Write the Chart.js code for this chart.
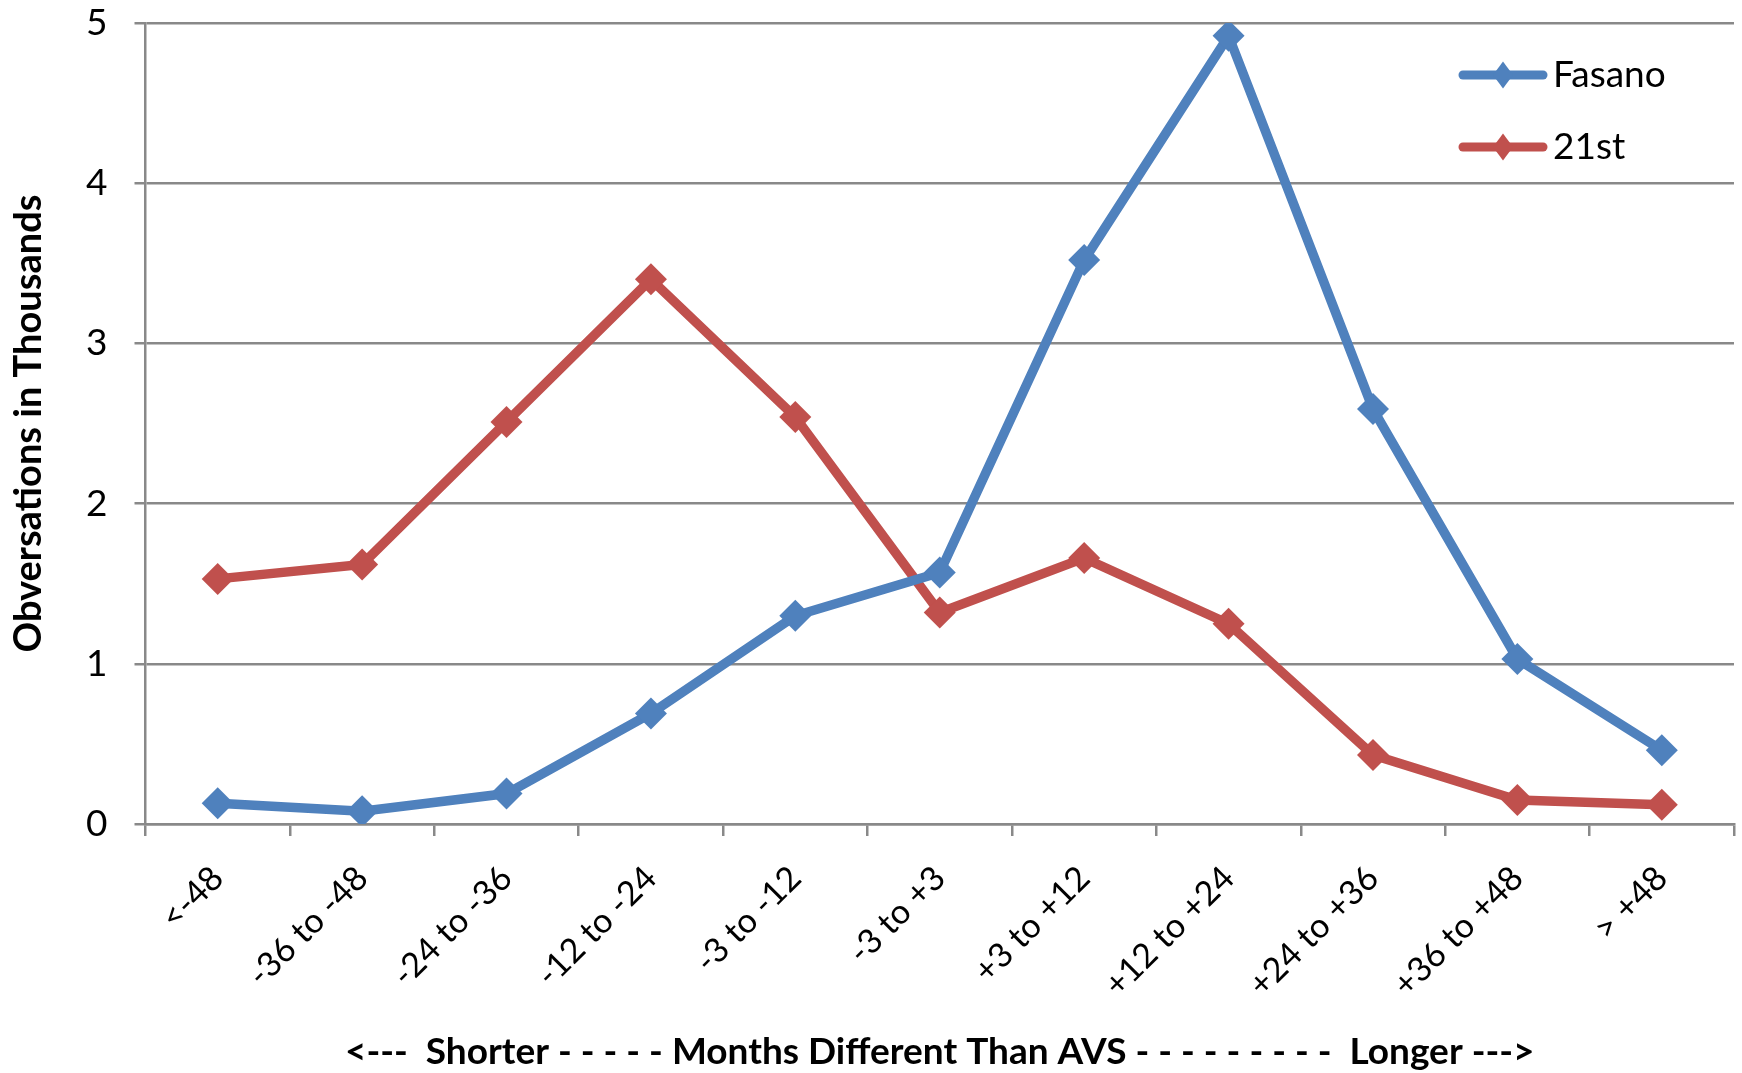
<!DOCTYPE html>
<html>
<head>
<meta charset="utf-8">
<script src="https://cdn.jsdelivr.net/npm/chart.js@4.4.0/dist/chart.umd.min.js"></script>
<style>
  html, body { margin: 0; padding: 0; background: #fff; }
  #wrap { width: 1742px; height: 1073px; }
</style>
</head>
<body>
<div id="wrap"><canvas id="obsChart" width="1742" height="1073"></canvas></div>
<script>
const categories = ['<-48', '-36 to -48', '-24 to -36', '-12 to -24', '-3 to -12', '-3 to +3',
                    '+3 to +12', '+12 to +24', '+24 to +36', '+36 to +48', '> +48'];
const fasano = [0.13, 0.08, 0.19, 0.69, 1.30, 1.57, 3.52, 4.92, 2.59, 1.03, 0.46];
const twentyFirst = [1.53, 1.62, 2.51, 3.40, 2.54, 1.32, 1.66, 1.25, 0.43, 0.15, 0.12];
const seriesNames = ['Fasano', '21st'];
const yMin = 0, yMax = 5, yStep = 1;
const yTitle = 'Obversations in Thousands';
const xTitle = '<---  Shorter - - - - - Months Different Than AVS - - - - - - - - -  Longer --->';

const BLUE = '#4F81BD';
const RED = '#C0504D';
const GRID = '#898989';
const FONT = 'Lato, "Open Sans", sans-serif';

// titles and the in-plot legend, drawn by hand like Excel does
const decorations = {
    id: 'decorations',
    afterDraw(chart) {
        const ctx = chart.ctx;
        const area = chart.chartArea;
        ctx.save();
        ctx.fillStyle = '#000';

        // y title
        ctx.font = 'bold 38px ' + FONT;
        ctx.textAlign = 'center';
        ctx.textBaseline = 'middle';
        ctx.translate(29, (area.top + area.bottom) / 2);
        ctx.rotate(-Math.PI / 2);
        ctx.fillText(yTitle, 0, 0);
        ctx.setTransform(1, 0, 0, 1, 0, 0);

        // x title
        ctx.font = 'bold 37px ' + FONT;
        ctx.fillText(xTitle, (area.left + area.right) / 2, 1052);

        // legend
        const x1 = 1463, x2 = 1543, rows = [75, 147];
        chart.data.datasets.forEach((ds, i) => {
            const y = rows[i];
            ctx.strokeStyle = ds.borderColor;
            ctx.lineWidth = 9;
            ctx.lineCap = 'round';
            ctx.beginPath();
            ctx.moveTo(x1, y);
            ctx.lineTo(x2, y);
            ctx.stroke();
            const cx = (x1 + x2) / 2, rw = 10, rh = 13.5;
            ctx.fillStyle = ds.backgroundColor;
            ctx.beginPath();
            ctx.moveTo(cx, y - rh);
            ctx.lineTo(cx + rw, y);
            ctx.lineTo(cx, y + rh);
            ctx.lineTo(cx - rw, y);
            ctx.closePath();
            ctx.fill();
            ctx.fillStyle = '#000';
            ctx.font = '37px ' + FONT;
            ctx.textAlign = 'left';
            ctx.textBaseline = 'middle';
            ctx.fillText(ds.label, 1553, y);
        });
        ctx.restore();
    }
};

const ctx = document.getElementById('obsChart').getContext('2d');
new Chart(ctx, {
    type: 'line',
    data: {
        labels: categories,
        datasets: [{
            label: seriesNames[0],
            data: fasano,
            borderColor: BLUE,
            backgroundColor: BLUE,
            borderWidth: 9.5,
            pointStyle: 'rectRot',
            pointRadius: 16,
            pointBorderWidth: 0,
            tension: 0
        }, {
            label: seriesNames[1],
            data: twentyFirst,
            borderColor: RED,
            backgroundColor: RED,
            borderWidth: 9.5,
            pointStyle: 'rectRot',
            pointRadius: 16,
            pointBorderWidth: 0,
            tension: 0
        }]
    },
    options: {
        responsive: false,
        animation: false,
        devicePixelRatio: 1,
        layout: { autoPadding: false, padding: { top: 23, right: 8, left: 0, bottom: 0 } },
        plugins: {
            legend: { display: false },
            tooltip: { enabled: false }
        },
        scales: {
            x: {
                offset: true,
                grid: { offset: true, drawOnChartArea: false, color: GRID, lineWidth: 2.5, tickLength: 12 },
                border: { color: GRID, width: 2.5 },
                ticks: { maxRotation: 45, minRotation: 45, color: '#000', font: { family: FONT, size: 34 }, padding: 22 },
                afterFit: (scale) => {
                    scale.height = 249;
                    scale.paddingLeft = 0;
                    scale.paddingRight = 0;
                }
            },
            y: {
                min: yMin,
                max: yMax,
                ticks: { stepSize: yStep, color: '#000', font: { family: FONT, size: 37 }, padding: 27 },
                grid: { color: GRID, lineWidth: 2.5, tickLength: 11 },
                border: { color: GRID, width: 2.5 },
                afterFit: (scale) => {
                    scale.width = 145.5;
                    scale.paddingTop = 0;
                    scale.paddingBottom = 0;
                }
            }
        }
    },
    plugins: [decorations]
});
</script>
</body>
</html>
